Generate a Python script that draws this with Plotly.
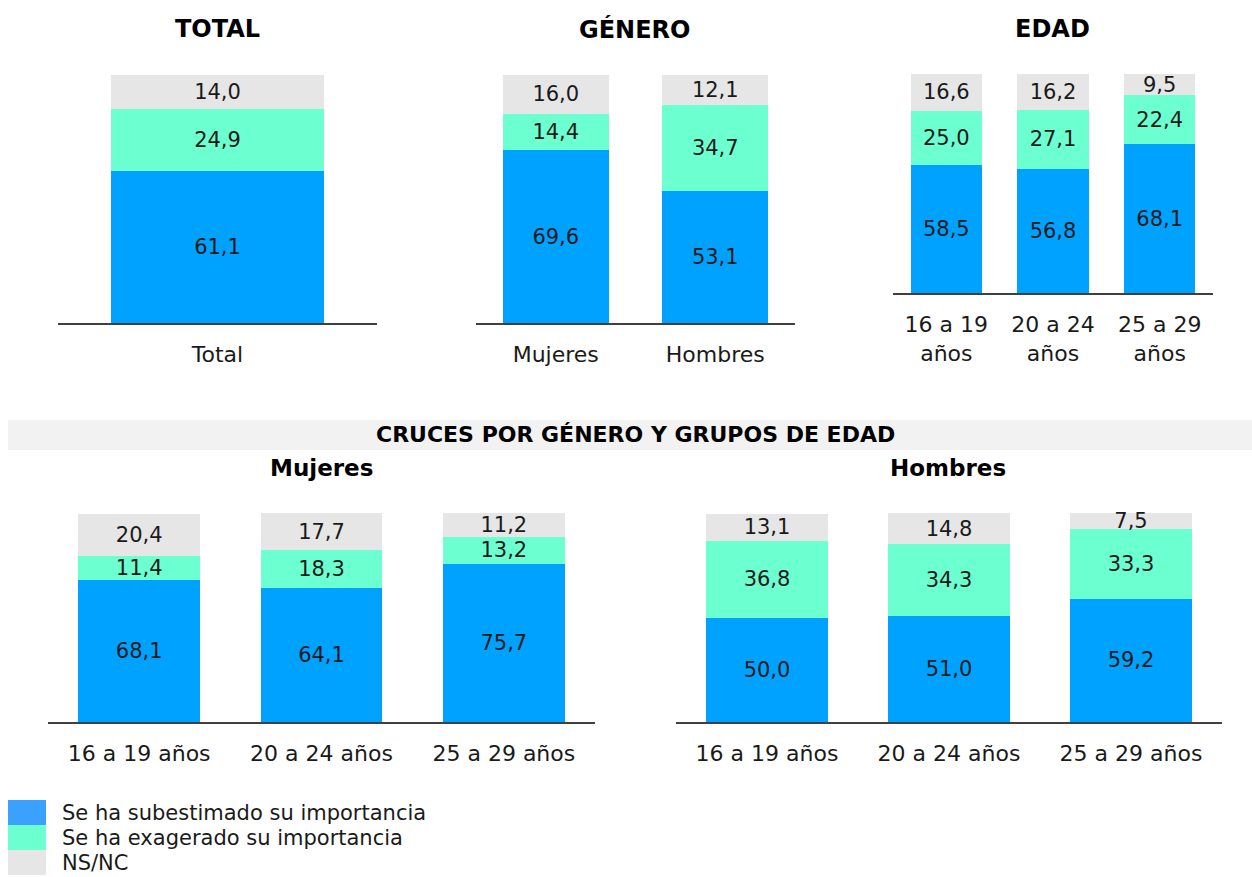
import plotly.graph_objects as go

# Survey results (%): underestimated / exaggerated / no answer
series_names = ["Se ha subestimado su importancia", "Se ha exagerado su importancia", "NS/NC"]
bar_colors = ["#00A2FF", "#6CFFD0", "#E6E6E6"]
legend_colors = ["#3BA1FF", "#6CFFD0", "#E6E6E6"]

total_cats = ["Total"]
total_sub = [61.1]
total_exa = [24.9]
total_ns = [14.0]

genero_cats = ["Mujeres", "Hombres"]
genero_sub = [69.6, 53.1]
genero_exa = [14.4, 34.7]
genero_ns = [16.0, 12.1]

edad_cats = ["16 a 19<br>años", "20 a 24<br>años", "25 a 29<br>años"]
edad_sub = [58.5, 56.8, 68.1]
edad_exa = [25.0, 27.1, 22.4]
edad_ns = [16.6, 16.2, 9.5]

cruce_cats = ["16 a 19 años", "20 a 24 años", "25 a 29 años"]
mujeres_sub = [68.1, 64.1, 75.7]
mujeres_exa = [11.4, 18.3, 13.2]
mujeres_ns = [20.4, 17.7, 11.2]

hombres_sub = [50.0, 51.0, 59.2]
hombres_exa = [36.8, 34.3, 33.3]
hombres_ns = [13.1, 14.8, 7.5]

W, H = 1252, 877
FONT = "DejaVu Sans"
TXT = "#1a1a1a"


def px_x(x):
    return x / W


def px_y(y):
    return 1 - y / H


def fmt(vals):
    return [f"{v:.1f}".replace(".", ",") for v in vals]


panels = [
    # (cats, series, x px span, y px span (base, top))
    (total_cats, [total_sub, total_exa, total_ns], (58, 377), (323, 74)),
    (genero_cats, [genero_sub, genero_exa, genero_ns], (476, 795), (323, 74)),
    (edad_cats, [edad_sub, edad_exa, edad_ns], (893, 1213), (293, 74)),
    (cruce_cats, [mujeres_sub, mujeres_exa, mujeres_ns], (48, 595), (722, 513)),
    (cruce_cats, [hombres_sub, hombres_exa, hombres_ns], (676, 1222), (722, 513)),
]

fig = go.Figure()
layout_axes = {}
for i, (cats, series, (x0, x1), (yb, yt)) in enumerate(panels, start=1):
    xa = "x" if i == 1 else f"x{i}"
    ya = "y" if i == 1 else f"y{i}"
    for name, vals, col in zip(series_names, series, bar_colors):
        fig.add_trace(go.Bar(
            x=cats, y=vals, name=name, marker=dict(color=col, line=dict(width=0)),
            text=fmt(vals), textposition="inside", insidetextanchor="middle",
            textfont=dict(family=FONT, size=21, color=TXT),
            xaxis=xa, yaxis=ya, showlegend=False, cliponaxis=False,
        ))
    n = len(cats)
    layout_axes["xaxis" if i == 1 else f"xaxis{i}"] = dict(
        domain=[px_x(x0), px_x(x1)], anchor=ya, range=[-0.5, n - 0.5],
        showline=True, linecolor="#404040", linewidth=1.5, showgrid=False,
        zeroline=False, ticks="", ticklabelstandoff=11,
        tickfont=dict(family=FONT, size=22, color=TXT), fixedrange=True,
    )
    layout_axes["yaxis" if i == 1 else f"yaxis{i}"] = dict(
        domain=[px_y(yb), px_y(yt)], anchor=xa, range=[0, 100.2],
        visible=False, fixedrange=True,
    )

annotations = []


def label(text, x, y, size, bold=False):
    annotations.append(dict(
        text=f"<b>{text}</b>" if bold else text, x=px_x(x), y=px_y(y),
        xref="paper", yref="paper", showarrow=False, xanchor="center", yanchor="middle",
        font=dict(family=FONT, size=size, color="#000000" if bold else TXT),
    ))


label("TOTAL", 217, 29, 24, True)
label("GÉNERO", 634, 29, 24, True)
label("EDAD", 1052, 29, 24, True)
label("CRUCES POR GÉNERO Y GRUPOS DE EDAD", 635, 435, 22, True)
label("Mujeres", 321, 468, 23, True)
label("Hombres", 948, 468, 23, True)

shapes = [dict(type="rect", xref="paper", yref="paper",
               x0=px_x(8), x1=px_x(1252), y0=px_y(450), y1=px_y(420),
               fillcolor="#F2F2F2", line=dict(width=0), layer="below")]

# Legend: stacked swatches with labels
for k, (name, col) in enumerate(zip(series_names, legend_colors)):
    top = 800 + 25 * k
    shapes.append(dict(type="rect", xref="paper", yref="paper",
                       x0=px_x(8), x1=px_x(46), y0=px_y(top + 25), y1=px_y(top),
                       fillcolor=col, line=dict(width=0)))
    annotations.append(dict(
        text=name, x=px_x(60), y=px_y(top + 13), xref="paper", yref="paper",
        showarrow=False, xanchor="left", yanchor="middle",
        font=dict(family=FONT, size=21, color=TXT),
    ))

fig.update_layout(
    width=W, height=H, margin=dict(l=0, r=0, t=0, b=0),
    paper_bgcolor="white", plot_bgcolor="white",
    barmode="stack", bargap=1 / 3,
    uniformtext=dict(minsize=21, mode="show"),
    annotations=annotations, shapes=shapes, showlegend=False,
    font=dict(family=FONT, color=TXT),
    **layout_axes,
)

fig.write_html("out.html")
